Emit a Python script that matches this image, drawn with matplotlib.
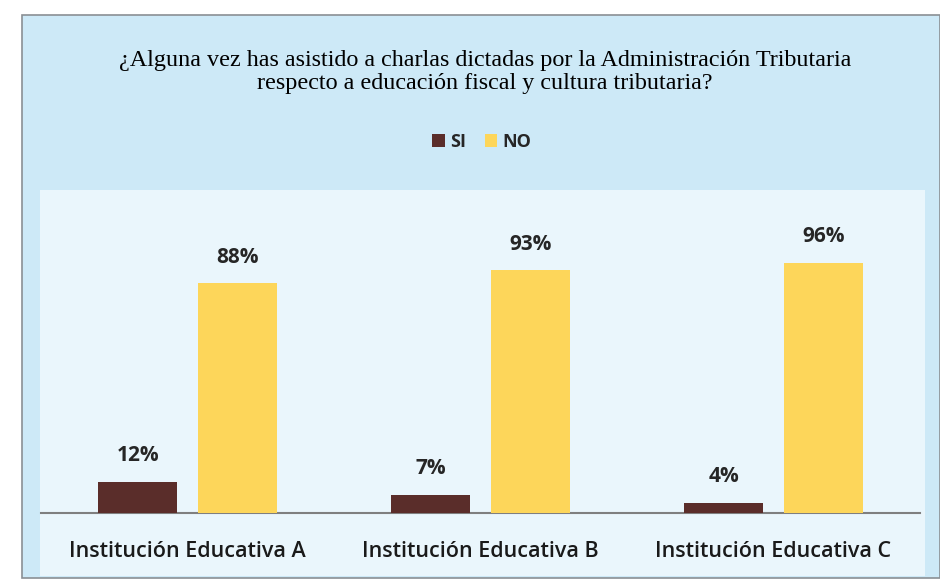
import matplotlib
matplotlib.use("Agg")
import matplotlib.pyplot as plt
from matplotlib.patches import Rectangle
import numpy as np

categories = ["Institución Educativa A", "Institución Educativa B", "Institución Educativa C"]
si_values = [12, 7, 4]
no_values = [88, 93, 96]
series_names = ["SI", "NO"]
title = "¿Alguna vez has asistido a charlas dictadas por la Administración Tributaria\nrespecto a educación fiscal y cultura tributaria?"

W, H = 940, 581
fig = plt.figure(figsize=(W/100, H/100), dpi=100)
fig.patch.set_facecolor("white")

def fx(px): return px / W
def fy(py): return 1 - py / H

# outer chart background
fig.add_artist(Rectangle((fx(22), fy(578)), fx(940-22), (578-15)/H, transform=fig.transFigure,
                         facecolor="#cde9f7", edgecolor="#8a8f94", linewidth=1.2, zorder=0))
# plot area lighter
fig.add_artist(Rectangle((fx(40), fy(576)), fx(925-40), (576-190)/H, transform=fig.transFigure,
                         facecolor="#eaf6fc", edgecolor="none", zorder=0.5))

ax = fig.add_axes([fx(41), fy(513), fx(920-41), (513-200)/H])
ax.set_facecolor("none")
ax.set_zorder(2)

x = np.arange(len(categories))
bw = 0.27
gap = 0.07
off = (bw + gap) / 2
c_si = "#5a2d2a"
c_no = "#fdd65a"
b1 = ax.bar(x - off, si_values, bw, color=c_si, label=series_names[0], zorder=3)
b2 = ax.bar(x + off, no_values, bw, color=c_no, label=series_names[1], zorder=3)

lblfont = dict(family=["Open Sans", "DejaVu Sans"], fontsize=15, fontweight="bold", color="#262626")
for bars, vals in ((b1, si_values), (b2, no_values)):
    for r, v in zip(bars, vals):
        ax.annotate(f"{v}%", (r.get_x() + r.get_width()/2, r.get_height()),
                    xytext=(0, 11), textcoords="offset points", ha="center", va="bottom", **lblfont)

ax.set_xlim(-0.5, 2.5)
ax.set_ylim(0, 120)
ax.set_yticks([])
for s in ("top", "right", "left"):
    ax.spines[s].set_visible(False)
ax.spines["bottom"].set_color("#7f7f7f")
ax.spines["bottom"].set_linewidth(1.5)
ax.set_xticks(x)
ax.set_xticklabels(categories, family=["Open Sans", "DejaVu Sans"], fontsize=15.5, fontweight="semibold", color="#1a1a1a")
ax.tick_params(axis="x", length=0, pad=20)

fig.text(fx(485), fy(72), title, ha="center", va="center", family=["Liberation Serif", "DejaVu Serif"],
         fontsize=17.4, color="#000000", linespacing=1.15, zorder=5)

leg = fig.legend(handles=[b1, b2], labels=series_names, loc="center", bbox_to_anchor=(fx(482), fy(142)),
                 ncol=2, frameon=False, handlelength=0.7, handleheight=0.7, handletextpad=0.3,
                 columnspacing=1.0, prop=dict(family="Open Sans", weight="bold", size=13))
leg.set_zorder(5)
for t in leg.get_texts():
    t.set_color("#262626")

fig.savefig("out.png", dpi=100, facecolor=fig.get_facecolor())
